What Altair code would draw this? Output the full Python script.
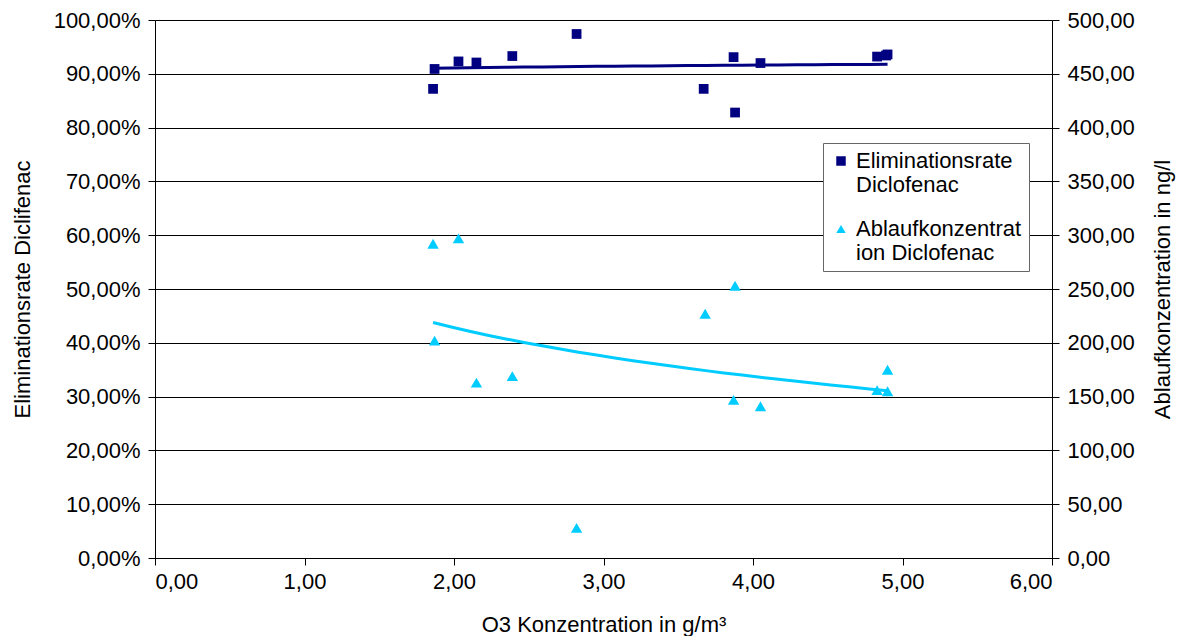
import altair as alt
import pandas as pd

# --- data ---
elim_x = [1.86, 1.87, 2.03, 2.15, 2.39, 2.82, 3.67, 3.87, 3.88, 4.05, 4.83, 4.89, 4.90]
elim_y = [0.872, 0.909, 0.923, 0.921, 0.933, 0.974, 0.872, 0.931, 0.828, 0.920, 0.932, 0.934, 0.936]

abl_x = [1.86, 1.87, 2.03, 2.15, 2.39, 2.82, 3.68, 3.87, 3.88, 4.05, 4.83, 4.90, 4.90]
abl_y = [292, 202, 297, 163, 169, 28, 227, 147, 253, 141, 156, 155, 175]

series_names = ["Eliminationsrate Diclofenac", "Ablaufkonzentration Diclofenac"]
series_colors = ["#000080", "#00CCFF"]
series_shapes = ["square", "triangle-up"]

x_ticks = [0, 1, 2, 3, 4, 5, 6]
left_ticks = [0.0, 0.1, 0.2, 0.3, 0.4, 0.5, 0.6, 0.7, 0.8, 0.9, 1.0]
right_ticks = [0, 50, 100, 150, 200, 250, 300, 350, 400, 450, 500]

df_e = pd.DataFrame({"x": elim_x, "y": elim_y, "series": series_names[0]})
df_a = pd.DataFrame({"x": abl_x, "y": abl_y, "series": series_names[1]})

FONT = "Liberation Sans"
FS = 22

xenc = alt.X("x:Q", scale=alt.Scale(domain=[0, 6], nice=False),
             axis=alt.Axis(values=x_ticks, title="O3 Konzentration in g/m³",
                           labelExpr="replace(format(datum.value, '.2f'), '.', ',')",
                           grid=False, tickSize=7, labelPadding=6, titlePadding=22))

color = alt.Color("series:N", scale=alt.Scale(domain=series_names, range=series_colors),
                  legend=alt.Legend(
                      title=None, orient="none", legendX=668, legendY=123,
                      fillColor="white", strokeColor="#666", padding=7,
                      labelFont=FONT, labelFontSize=FS, labelColor="black", labelLimit=400,
                      labelExpr="datum.label == 'Eliminationsrate Diclofenac' ? ['Eliminationsrate', 'Diclofenac'] : ['Ablaufkonzentrat', 'ion Diclofenac']",
                      symbolSize=90, symbolStrokeWidth=0, rowPadding=22, labelOffset=4))
shape = alt.Shape("series:N", scale=alt.Scale(domain=series_names, range=series_shapes))

y_left = alt.Y("y:Q", scale=alt.Scale(domain=[0, 1], nice=False),
               axis=alt.Axis(values=left_ticks, orient="left", title="Eliminationsrate Diclifenac",
                             labelExpr="replace(format(datum.value, '.2%'), '.', ',')",
                             grid=True, gridColor="#000000", gridWidth=1,
                             tickSize=7, labelPadding=8, titlePadding=19))
y_right = alt.Y("y:Q", scale=alt.Scale(domain=[0, 500], nice=False),
                axis=alt.Axis(values=right_ticks, orient="right", title="Ablaufkonzentration in ng/l",
                              labelExpr="replace(format(datum.value, '.2f'), '.', ',')",
                              grid=False, tickSize=7, labelPadding=8, titlePadding=18,
                              titleAngle=270, titleBaseline="top"))

pts_e = alt.Chart(df_e).mark_point(filled=True, size=95, opacity=1).encode(
    x=xenc, y=y_left, color=color, shape=shape)
line_e = alt.Chart(df_e).transform_regression("x", "y", method="log").mark_line(
    color="#000080", strokeWidth=3).encode(x="x:Q", y="y:Q")

pts_a = alt.Chart(df_a).mark_point(filled=True, size=130, opacity=1).encode(
    x=xenc, y=y_right, color=color, shape=shape)
line_a = alt.Chart(df_a).transform_regression("x", "y", method="log").mark_line(
    color="#00CCFF", strokeWidth=3).encode(x="x:Q", y="y:Q")

left = alt.layer(line_e, pts_e)
right = alt.layer(line_a, pts_a)

chart = alt.layer(left, right).resolve_scale(y="independent").properties(
    width=897, height=538,
    background="white",
    autosize=alt.AutoSizeParams(type="none"),
    padding={"left": 147, "top": 12, "right": 124, "bottom": 78},
).configure_axis(
    labelFont=FONT, titleFont=FONT, labelFontSize=FS, titleFontSize=FS,
    labelColor="black", titleColor="black", titleFontWeight="normal",
    domainColor="black", tickColor="black", domainWidth=1, tickWidth=1,
).configure_view(stroke="#999999", strokeWidth=1)

chart.save("out.html", embed_options={"renderer": "svg", "actions": False})
